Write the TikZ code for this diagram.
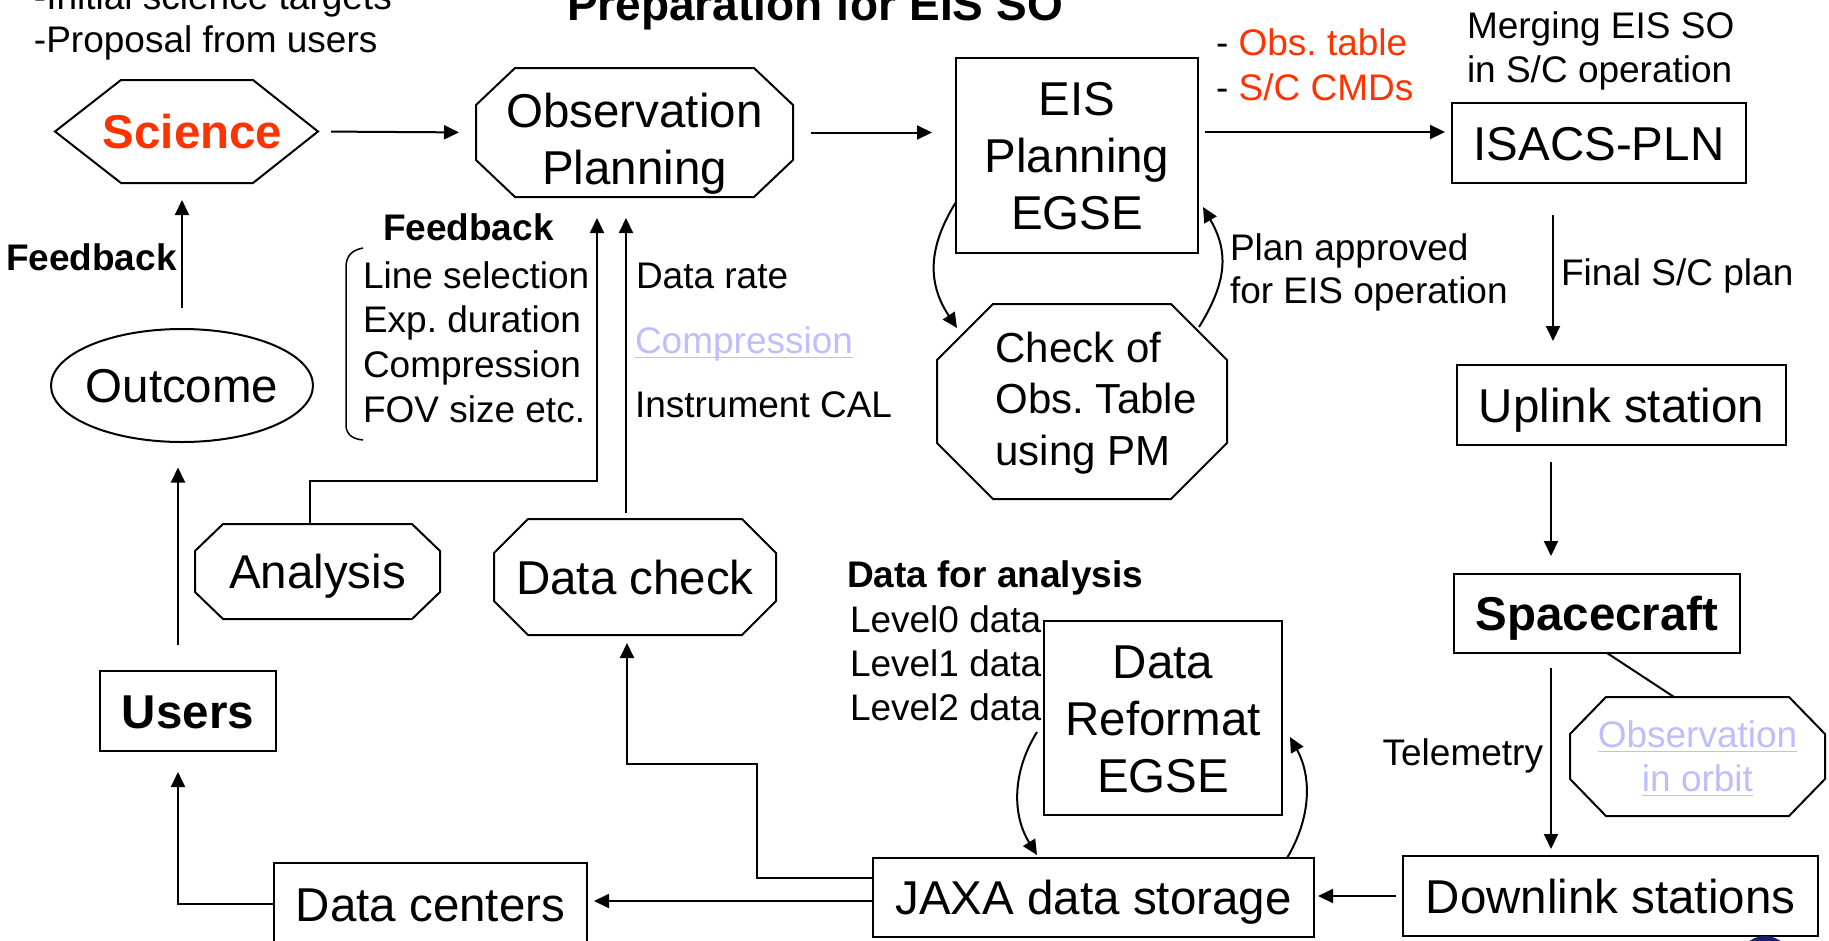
\documentclass[tikz,border=0pt]{standalone}
\usepackage{fontspec}
\setmainfont{Liberation Sans}
\usetikzlibrary{arrows.meta}

\definecolor{hotred}{RGB}{255,51,0}
\definecolor{linkblue}{RGB}{190,190,250}
\definecolor{logonavy}{RGB}{30,30,110}

% fonts (1pt = 1 pixel of the page)
\newcommand\nodefont{\fontsize{47.5}{57}\selectfont}
\newcommand\labelfont{\fontsize{37}{44}\selectfont}
\newcommand\labelbold{\fontsize{37}{44}\selectfont\bfseries}
% stacked lines whose baseline is the first line
\newcommand\textrows[2][c]{\begin{tabular}[t]{@{}#1@{}}#2\end{tabular}}
% hyperlink-like underlined text
\newcommand\linktext[1]{\setbox0=\hbox{#1}\rlap{\rule[-5pt]{\wd0}{1.5pt}}\box0}
% octagon drawn around a node: node name, corner cut x, corner cut y
\newcommand\octpath[3]{%
  \draw[plain] ([xshift=#2]#1.north west) -- ([xshift=-#2]#1.north east)
    -- ([yshift=-#3]#1.north east) -- ([yshift=#3]#1.south east)
    -- ([xshift=-#2]#1.south east) -- ([xshift=#2]#1.south west)
    -- ([yshift=#3]#1.south west) -- ([yshift=-#3]#1.north west) -- cycle;}

\begin{document}
\frenchspacing
\begin{tikzpicture}[x=1pt,y=-1pt,
  every node/.style={inner sep=0pt, outer sep=0pt},
  plain/.style={line width=2pt},
  conn/.style={line width=2pt, -{Triangle[length=15pt,width=14pt]}},
  frame/.style={rectangle, text height=34pt, text depth=0pt, font=\nodefont},
  box/.style={frame, draw, line width=2pt},
  lbl/.style={anchor=base west, font=\labelfont}]
\useasboundingbox (0,0) rectangle (1829,940);
\clip (0,0) rectangle (1829,940);

% ---------- main nodes ----------
\node[frame, minimum width=263pt, minimum height=103pt] (sci) at (186.5,131.5)
  {\hspace{12pt}\textcolor{hotred}{\bfseries Science}};
\node[frame, minimum width=317pt, minimum height=129pt, text depth=45pt] (obs) at (634.5,132.5)
  {\textrows{Observation\\Planning}};
\node[box, minimum width=242pt, minimum height=195pt, text depth=115pt] (eis) at (1077,155.5)
  {\textrows{EIS\\Planning\\EGSE}};
\node[box, minimum width=294pt, minimum height=80pt] (isacs) at (1599,143) {ISACS-PLN};
\node[frame, minimum width=290pt, minimum height=195pt, text height=30pt, text depth=109pt,
  font=\fontsize{42}{51.5}\selectfont] (chk) at (1082,401.5)
  {\hspace{28pt}\textrows[l]{Check of\\Obs. Table\\using PM}};
\node[box, minimum width=329pt, minimum height=80pt] (uplink) at (1621.5,405) {Uplink station};
\node[box, minimum width=286pt, minimum height=79pt] (sc) at (1597,613.5) {\bfseries Spacecraft};
\node[frame, minimum width=255pt, minimum height=119pt, text height=26.5pt, text depth=45.5pt,
  font=\labelfont, text=linkblue] (orbit) at (1697.5,756.5)
  {\textrows{\linktext{Observation}\\\linktext{in orbit}}\hspace{13pt}};
\node[box, minimum width=415pt, minimum height=80pt] (down) at (1610.5,896) {Downlink stations};
\node[box, minimum width=441pt, minimum height=79pt] (jaxa) at (1093.5,897.5) {JAXA data storage};
\node[box, minimum width=238pt, minimum height=194pt, text depth=114pt] (dref) at (1163,718)
  {\textrows{Data\\Reformat\\EGSE}};
\node[box, minimum width=313pt, minimum height=82pt] (dc) at (430.5,904) {Data centers};
\node[box, minimum width=176pt, minimum height=80pt] (users) at (188,711) {\bfseries Users};
\node[frame, minimum width=262pt, minimum height=113pt] (outcome) at (182,385.5) {Outcome};
\node[frame, minimum width=245pt, minimum height=95pt] (ana) at (317.5,571.5) {Analysis};
\node[frame, minimum width=282pt, minimum height=116pt] (dchk) at (635,577) {Data check};

% ---------- outlines of the non-rectangular shapes ----------
\draw[plain] ([xshift=66pt]sci.north west) -- ([xshift=-65pt]sci.north east) -- (sci.east)
  -- ([xshift=-65pt]sci.south east) -- ([xshift=66pt]sci.south west) -- (sci.west) -- cycle;
\draw[plain] (outcome.center) ellipse [x radius=131, y radius=56.5];
\octpath{obs}{39pt}{37pt}
\octpath{chk}{56pt}{56pt}
\octpath{orbit}{36pt}{37pt}
\octpath{ana}{28pt}{27pt}
\octpath{dchk}{34pt}{34pt}

% ---------- texts ----------
\node[lbl, font=\fontsize{46}{55}\selectfont\bfseries] (title) at (567,20) {Preparation for EIS SO};
\node[lbl, font=\fontsize{37}{43}\selectfont] (intro) at (34,9)
  {\textrows[l]{-Initial science targets\\-Proposal from users}};
\node[lbl, font=\fontsize{37}{45}\selectfont] (cmds) at (1216,55)
  {\textrows[l]{- \textcolor{hotred}{Obs. table}\\- \textcolor{hotred}{S/C CMDs}}};
\node[lbl] (merge) at (1467,38) {\textrows[l]{Merging EIS SO\\in S/C operation}};
\node[lbl, font=\fontsize{37}{43}\selectfont] (approved) at (1230,260)
  {\textrows[l]{Plan approved\\for EIS operation}};
\node[lbl] (finalplan) at (1561,285) {Final S/C plan};
\node[lbl, font=\labelbold] (fbleft) at (6,270) {Feedback};
\node[lbl, font=\labelbold] (fbtop) at (383,240) {Feedback};
\node[lbl, font=\fontsize{37}{44.7}\selectfont] (fblist) at (363,288)
  {\textrows[l]{Line selection\\Exp. duration\\Compression\\FOV size etc.}};
\node[lbl] (rate) at (636,288) {Data rate};
\node[lbl, text=linkblue] (comp) at (635,353) {\linktext{Compression}};
\node[lbl] (cal) at (635,417) {Instrument CAL};
\node[lbl, font=\labelbold] (dfa) at (847,587) {Data for analysis};
\node[lbl] (levels) at (850,632) {\textrows[l]{Level0 data\\Level1 data\\Level2 data}};
\node[lbl, anchor=base east] (telem) at (1543,765) {Telemetry};

% bracket around the feedback list
\draw[line width=1.5pt] (363,248) .. controls (352,250) and (346,256) .. (346,267)
  -- (346,425) .. controls (346,434) and (352,439) .. (363,440);

% ---------- connectors ----------
\draw[conn, shorten <=13pt, shorten >=17pt] (sci.east) -- (obs.west);
\draw[conn, shorten <=18pt, shorten >=24pt] (obs.east) -- (obs.east -| eis.west);
\draw[conn, shorten <=7pt, shorten >=7pt] ([yshift=11pt]isacs.west -| eis.east) -- ([yshift=11pt]isacs.west);
\draw[conn] ([xshift=-46pt,yshift=-32pt]isacs.south) -- ([xshift=-68.5pt,yshift=24pt]uplink.north);
\draw[conn] ([xshift=-70.5pt,yshift=-17pt]uplink.south) -- ([xshift=-46pt,yshift=18pt]sc.north);
\draw[conn] ([xshift=-46pt,yshift=-15pt]sc.south) -- ([xshift=-59.5pt,yshift=7pt]down.north);
\draw[plain] ([xshift=10pt]sc.south) -- ([xshift=-23.5pt]orbit.north);
\draw[conn, shorten <=7pt, shorten >=4pt] (down.west) -- (down.west -| jaxa.east);
\draw[conn, shorten >=7pt] ([yshift=-3.5pt]jaxa.west) -- ([yshift=-3.5pt]jaxa.west -| dc.east);
\draw[conn] (dc.west) -| ([xshift=-10pt,yshift=-21pt]users.south);
\draw[conn] ([xshift=-10pt,yshift=26pt]users.north) -- ([xshift=-4pt,yshift=-25.5pt]outcome.south);
\draw[conn] ([yshift=21.5pt]outcome.north) -- ([xshift=-4.5pt,yshift=-17pt]sci.south);
\draw[conn] ([xshift=-7.5pt]ana.north) -- ++(0,-43) -| ([xshift=-37.5pt,yshift=-21pt]obs.south);
\draw[conn] ([xshift=-9pt,yshift=6pt]dchk.north) -- ([xshift=-8.5pt,yshift=-21pt]obs.south);
\draw[conn] ([yshift=19.5pt]jaxa.west) -- ++(-116,0) -- ++(0,-114) -| ([xshift=-8pt,yshift=-8pt]dchk.south);
\draw[conn] ([yshift=51pt]eis.south west) .. controls +(-28,45) and +(-30,-45) .. ([xshift=20pt,yshift=-24pt]chk.north west);
\draw[conn] ([xshift=-28pt,yshift=-23pt]chk.north east) .. controls +(28,-45) and +(26,45) .. ([xshift=5pt,yshift=46pt]eis.south east);
\draw[conn] ([xshift=-27pt]jaxa.north east) .. controls +(24,-40) and +(22,40) .. ([xshift=8pt,yshift=-19pt]dref.east);
\draw[conn] ([xshift=-7pt,yshift=-14pt]dref.west) .. controls +(-25,40) and +(-25,-40) .. ([xshift=164pt,yshift=3pt]jaxa.north west);

% corner emblem, mostly outside the page
\fill[logonavy] (1765,963) circle [radius=27pt];
\end{tikzpicture}
\end{document}
